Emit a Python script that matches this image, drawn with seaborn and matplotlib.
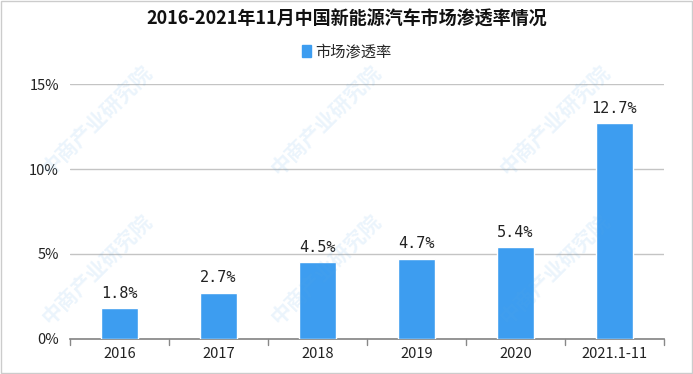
import matplotlib
matplotlib.use("Agg")
import matplotlib.pyplot as plt
import seaborn as sns
import pandas as pd

# data
years = ["2016", "2017", "2018", "2019", "2020", "2021.1-11"]
penetration = [1.8, 2.7, 4.5, 4.7, 5.4, 12.7]
y_ticks = [0, 5, 10, 15]
title = "2016-2021年11月中国新能源汽车市场渗透率情况"
series_name = "市场渗透率"

sns.set_theme(style="white")
plt.rcParams['font.family'] = ['Noto Sans CJK SC', 'DejaVu Sans']

df = pd.DataFrame({"year": years, "rate": penetration, "series": series_name})

fig = plt.figure(figsize=(6.93, 3.74), dpi=100)
ax = fig.add_axes([0.101, 0.094, 0.857, 0.681])

# faint watermark
for wx in [0.14, 0.47, 0.80]:
    for wy in [0.28, 0.68]:
        fig.text(wx, wy, "中商产业研究院", rotation=45, fontsize=15, color="#5aa9e6",
                 alpha=0.12, ha="center", va="center", fontweight="bold", zorder=0)

bar_color = "#3d9df0"
sns.barplot(data=df, x="year", y="rate", hue="series", palette=[bar_color],
            width=0.38, ax=ax, zorder=3, saturation=1)

ax.set_ylim(0, 15)
ax.set_xlim(-0.5, len(years) - 0.5)
ax.set_yticks(y_ticks)
ax.set_yticklabels([f"{t}%" for t in y_ticks], fontsize=10.5, color="#222222")
ax.tick_params(axis="y", length=0, pad=8)
ax.set_xticks(range(len(years)))
ax.set_xticklabels(years, fontsize=10.5, color="#222222")
ax.tick_params(axis="x", length=0, pad=6)
# tick marks at category boundaries
for b in [i + 0.5 for i in range(-1, len(years))]:
    ax.plot([b, b], [0, -0.35], color="#888888", lw=1, clip_on=False, zorder=4)
ax.set_xlabel("")
ax.set_ylabel("")
ax.yaxis.grid(True, color="#c4c4c4", lw=1)
ax.set_axisbelow(True)
for s in ["top", "right", "left"]:
    ax.spines[s].set_visible(False)
ax.spines["bottom"].set_color("#888888")
ax.patch.set_alpha(0)

for i, v in enumerate(penetration):
    ax.text(i, v + 0.45, f"{v}%", ha="center", va="bottom", fontsize=11,
            family="DejaVu Sans Mono", color="#222222", zorder=5)

ax.legend_.remove()
handle = plt.Rectangle((0, 0), 1, 1, color=bar_color)
fig.legend([handle], [series_name], loc="center", bbox_to_anchor=(0.5, 0.862),
           frameon=False, fontsize=11, handlelength=0.6, handleheight=0.8,
           handletextpad=0.3)

fig.suptitle(title, y=0.975, fontsize=13, fontweight="bold", color="#111111")

# outer border
fig.patches.append(plt.Rectangle((0.002, 0.003), 0.996, 0.994, transform=fig.transFigure,
                                 fill=False, edgecolor="#cccccc", lw=1))

fig.savefig("out.png", dpi=100)
